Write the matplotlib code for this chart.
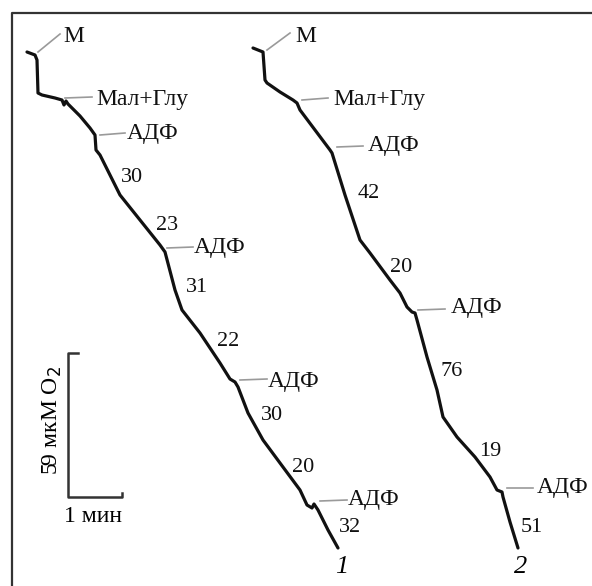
import matplotlib as mpl
mpl.use('Agg')
import matplotlib.pyplot as plt

# oxygen traces (x = time, y = O2 level, image units)
trace1_x = [27, 35, 37, 38, 42, 55, 62, 64, 66, 68, 80, 90, 95, 96, 100, 120, 140, 160,
            165, 175, 182, 200, 220, 230, 235, 238, 248, 263, 280, 300, 307, 312, 314,
            318, 328, 338]
trace1_y = [52, 55, 60, 93, 95, 98, 100, 105, 101, 104, 116, 128, 135, 150, 155, 195, 220, 245,
            252, 290, 310, 333, 363, 379, 382, 387, 413, 440, 463, 490, 505, 508, 504,
            510, 530, 548]
trace2_x = [253, 263, 265, 267, 280, 293, 297, 300, 315, 330, 332, 345, 360, 370, 390, 400,
            407, 412, 415, 417, 427, 437, 443, 457, 475, 490, 497, 502, 503, 510, 518]
trace2_y = [48, 52, 80, 83, 92, 100, 103, 110, 130, 150, 153, 195, 240, 253, 280, 293,
            307, 312, 313, 320, 357, 390, 417, 437, 457, 477, 490, 492, 497, 522, 548]

# labels with leader lines: (text, line start, line end, text x, text y)
leaders = [
    ("М", (38, 52), (60, 34), 63, 36),
    ("Мал+Глу", (65, 98), (92, 97), 96, 100),
    ("АДФ", (100, 135), (125, 133), 127, 134),
    ("АДФ", (167, 248), (193, 247), 194, 247),
    ("АДФ", (240, 380), (267, 379), 268, 381),
    ("АДФ", (320, 501), (347, 500), 348, 500),
    ("М", (267, 50), (290, 33), 295, 36),
    ("Мал+Глу", (302, 100), (328, 98), 333, 99),
    ("АДФ", (337, 147), (363, 146), 368, 145),
    ("АДФ", (418, 310), (445, 309), 451, 308),
    ("АДФ", (507, 488), (533, 488), 537, 487),
]
# respiration rates
rates = ["30", "23", "31", "22", "30", "20", "32", "42", "20", "76", "19", "51"]
rate_x = [132, 167, 197, 228, 272, 303, 350, 369, 401, 452, 490, 532]
rate_y = [177, 225, 288, 342, 416, 467, 527, 193, 268, 372, 451, 527]

fnt = ['Liberation Serif', 'DejaVu Serif']
fs = 17

fig = plt.figure(figsize=(5.92, 5.86), dpi=100)
ax = fig.add_axes([0, 0, 1, 1])
ax.set_xlim(0, 592)
ax.set_ylim(586, 0)
ax.axis('off')

# frame
ax.plot([12, 12, 600], [600, 13, 13], color='#333333', lw=1.6, clip_on=False)

ax.plot(trace1_x, trace1_y, color='#111111', lw=2.3, solid_joinstyle='round', solid_capstyle='round')
ax.plot(trace2_x, trace2_y, color='#111111', lw=2.3, solid_joinstyle='round', solid_capstyle='round')

for txt, p0, p1, tx, ty in leaders:
    ax.plot([p0[0], p1[0]], [p0[1], p1[1]], color='#9a9a9a', lw=1.2)
    ax.text(tx, ty, txt, family=fnt, fontsize=fs, ha='left', va='center', color='#111111')

for r, x, y in zip(rates, rate_x, rate_y):
    ax.text(x, y, r, family=fnt, fontsize=16, ha='center', va='center', color='#111111')

ax.text(342, 567, "1", family=fnt, fontsize=19, style='italic', ha='center', va='center')
ax.text(521, 567, "2", family=fnt, fontsize=19, style='italic', ha='center', va='center')

# scale bar
ax.plot([78, 68, 68, 122, 122], [353, 353, 497, 497, 493], color='#333333', lw=1.8)
ax.text(52, 420, "59 мкМ O$_2$", family=fnt, fontsize=fs, rotation=90, ha='center', va='center')
ax.text(93, 517, "1 мин", family=fnt, fontsize=fs, ha='center', va='center')

fig.savefig('out.png', dpi=100)
